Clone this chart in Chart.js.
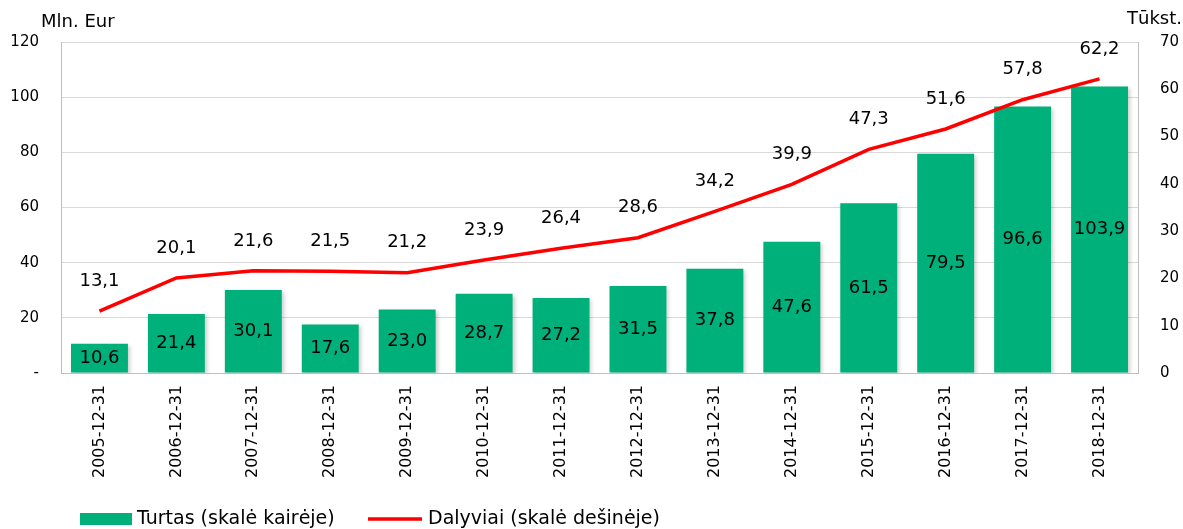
<!DOCTYPE html>
<html>
<head>
<meta charset="utf-8">
<script src="https://cdn.jsdelivr.net/npm/chart.js@4.4.0/dist/chart.umd.min.js"></script>
<style>
  html, body { margin: 0; padding: 0; background: #fff; }
  #wrap { width: 1183px; height: 529px; }
</style>
</head>
<body>
<div id="wrap"><canvas id="fund-chart"></canvas></div>
<script>
const dates = ["2005-12-31","2006-12-31","2007-12-31","2008-12-31","2009-12-31","2010-12-31","2011-12-31",
               "2012-12-31","2013-12-31","2014-12-31","2015-12-31","2016-12-31","2017-12-31","2018-12-31"]
const assets = [10.6, 21.4, 30.1, 17.6, 23.0, 28.7, 27.2, 31.5, 37.8, 47.6, 61.5, 79.5, 96.6, 103.9]
const members = [13.1, 20.1, 21.6, 21.5, 21.2, 23.9, 26.4, 28.6, 34.2, 39.9, 47.3, 51.6, 57.8, 62.2]
const leftTitle = 'Mln. Eur'
const rightTitle = 'Tūkst.'
const assetsLabel = 'Turtas (skalė kairėje)'
const membersLabel = 'Dalyviai (skalė dešinėje)'

const green = '#00b07b'
const red = '#ff0000'
const font = "'DejaVu Sans', Verdana, sans-serif"

function fmt(v) {
    return v.toFixed(1).replace('.', ',')
}

// value labels, axis titles and bottom legend
const extras = {
    id: 'extras',
    beforeDatasetDraw(chart, args) {
        if (args.index === 0) {
            const ctx = chart.ctx
            ctx.save()
            ctx.shadowColor = 'rgba(0,0,0,0.2)'
            ctx.shadowBlur = 4
            ctx.shadowOffsetX = 2
            ctx.shadowOffsetY = 2
        }
    },
    afterDatasetDraw(chart, args) {
        if (args.index === 0) chart.ctx.restore()
    },
    afterDraw(chart) {
        const ctx = chart.ctx
        ctx.save()
        ctx.fillStyle = '#000'
        ctx.textAlign = 'center'
        ctx.textBaseline = 'middle'
        ctx.font = '18px ' + font

        chart.getDatasetMeta(0).data.forEach((bar, i) => {
            ctx.fillText(fmt(assets[i]), bar.x, (bar.y + bar.base) / 2)
        })
        chart.getDatasetMeta(1).data.forEach((pt, i) => {
            ctx.fillText(fmt(members[i]), pt.x, pt.y - 30)
        })

        ctx.font = '18px ' + font
        ctx.textAlign = 'left'
        ctx.fillText(leftTitle, 41, 22)
        ctx.textAlign = 'right'
        ctx.fillText(rightTitle, 1182, 19)

        // legend
        ctx.font = '19px ' + font
        ctx.textAlign = 'left'
        const ly = 519
        ctx.fillStyle = green
        ctx.fillRect(80, ly - 6, 52, 12)
        ctx.fillStyle = '#000'
        ctx.fillText(assetsLabel, 137, ly)
        ctx.strokeStyle = red
        ctx.lineWidth = 3.5
        ctx.beginPath()
        ctx.moveTo(368, ly)
        ctx.lineTo(422, ly)
        ctx.stroke()
        ctx.fillText(membersLabel, 428, ly)
        ctx.restore()
    }
}

new Chart(document.getElementById('fund-chart'), {
    type: 'bar',
    data: {
        labels: dates,
        datasets: [
            {
                label: assetsLabel,
                data: assets,
                backgroundColor: green,
                barPercentage: 0.74,
                categoryPercentage: 1,
                yAxisID: 'y',
                order: 2
            },
            {
                type: 'line',
                label: membersLabel,
                data: members,
                borderColor: red,
                backgroundColor: red,
                borderWidth: 3.5,
                pointRadius: 0,
                tension: 0,
                yAxisID: 'y1',
                order: 1
            }
        ]
    },
    options: {
        responsive: true,
        maintainAspectRatio: false,
        animation: false,
        layout: {
            padding: { top: 42, bottom: 30, left: 0, right: 0 }
        },
        plugins: {
            legend: { display: false },
            tooltip: { enabled: false }
        },
        scales: {
            x: {
                grid: { display: false, drawTicks: false },
                border: { display: true, color: '#bfbfbf', width: 1 },
                ticks: {
                    color: '#000',
                    minRotation: 90,
                    maxRotation: 90,
                    padding: 12,
                    font: { family: font, size: 16 }
                },
                afterFit: s => { s.height = 126 }
            },
            y: {
                position: 'left',
                min: 0,
                max: 120,
                grid: { color: '#d9d9d9', drawTicks: false },
                border: { display: true, color: '#bfbfbf' },
                ticks: {
                    stepSize: 20,
                    color: '#000',
                    padding: 22,
                    font: { family: font, size: 15 },
                    callback: v => v === 0 ? '-' : v
                },
                afterFit: s => { s.width = 61 }
            },
            y1: {
                position: 'right',
                min: 0,
                max: 70,
                grid: { display: false, drawTicks: false },
                border: { display: true, color: '#bfbfbf' },
                ticks: {
                    stepSize: 10,
                    color: '#000',
                    padding: 22,
                    font: { family: font, size: 15 }
                },
                afterFit: s => { s.width = 45 }
            }
        }
    },
    plugins: [extras]
})
</script>
</body>
</html>
